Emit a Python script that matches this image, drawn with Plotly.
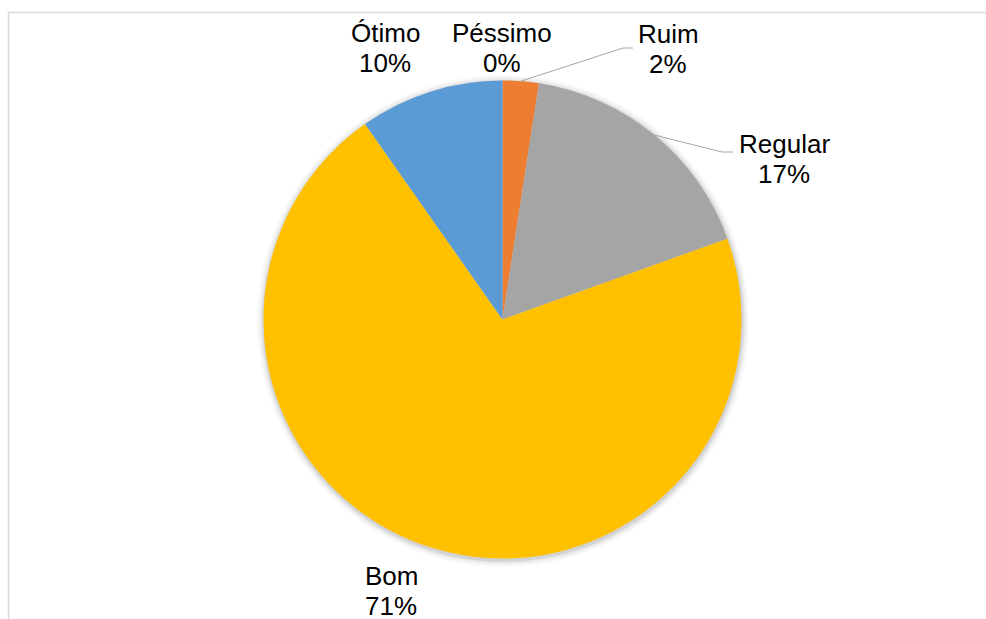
import plotly.graph_objects as go
import math

# ---- data ----
categories = ["Péssimo", "Ruim", "Regular", "Bom", "Ótimo"]
counts = [0, 1, 7, 29, 4]
colors = ["#5B9BD5", "#ED7D31", "#A5A5A5", "#FFC000", "#5B9BD5"]

# ---- layout constants (pixels) ----
W, H = 986, 619
CX, CY, R = 502.5, 319.5, 239
FONT = "Liberation Sans, Arial, sans-serif"
FS = 26
LINE_GAP = 30

# label anchor (x centre, first-line baseline) per category, in pixels
label_pos = {
    "Péssimo": (502, 42),
    "Ruim": (668, 43),
    "Regular": (784, 153),
    "Bom": (391, 585),
    "Ótimo": (385, 42),
}
# leader-line elbow and end (pixels) for labels that have one
leaders = {
    "Ruim": [(623, 48), (633, 48)],
    "Regular": [(722, 152), (733, 152)],
}


def px(x):
    return x / W


def py(y):
    return 1 - y / H


total = sum(counts)
fig = go.Figure()

# soft shadow layers
for grow, alpha in [(7, 0.025), (5, 0.035), (3, 0.05), (1.5, 0.07)]:
    r = R + grow
    cx, cy = CX + 0.5, CY + 1.5
    fig.add_trace(go.Pie(
        values=[1], labels=["shadow"], sort=False,
        marker=dict(colors=[f"rgba(0,0,0,{alpha})"], line=dict(width=0)),
        textinfo="none", hoverinfo="skip", showlegend=False,
        domain=dict(x=[px(cx - r), px(cx + r)], y=[py(cy + r), py(cy - r)]),
    ))

fig.add_trace(go.Pie(
    labels=categories, values=counts, sort=False, direction="clockwise",
    rotation=0,
    marker=dict(colors=colors, line=dict(width=0)),
    textinfo="none", showlegend=False,
    domain=dict(x=[px(CX - R), px(CX + R)], y=[py(CY + R), py(CY - R)]),
))

annotations = []
shapes = []
cum = 0
for cat, c in zip(categories, counts):
    frac = c / total
    mid = (cum + frac / 2) * 2 * math.pi
    cum += frac
    pct = f"{round(frac * 100):.0f}%"
    x, yb = label_pos[cat]
    for i, txt in enumerate([cat, pct]):
        annotations.append(dict(
            x=px(x), y=py(yb + i * LINE_GAP - 9), xref="paper", yref="paper",
            text=txt, showarrow=False, xanchor="center", yanchor="middle",
            font=dict(family=FONT, size=FS, color="#000000"),
        ))
    if cat in leaders:
        sx = CX + R * math.sin(mid)
        sy = CY - R * math.cos(mid)
        pts = [(sx, sy)] + leaders[cat]
        path = "M " + " L ".join(f"{px(a)},{py(b)}" for a, b in pts)
        shapes.append(dict(type="path", path=path, xref="paper", yref="paper",
                           line=dict(color="#A6A6A6", width=1)))

# chart-area border (cropped on right and bottom)
shapes.append(dict(type="rect", xref="paper", yref="paper",
                   x0=px(8.5), x1=px(W + 5), y0=py(H + 5), y1=py(12.5),
                   line=dict(color="#D9D9D9", width=1.5)))

fig.update_layout(
    width=W, height=H, margin=dict(l=0, r=0, t=0, b=0),
    paper_bgcolor="white", plot_bgcolor="white",
    annotations=annotations, shapes=shapes,
)

fig.write_html(
    "out.html",
    config={"displayModeBar": False},
    post_script="document.body.style.margin='0';document.body.style.overflow='hidden';",
)
